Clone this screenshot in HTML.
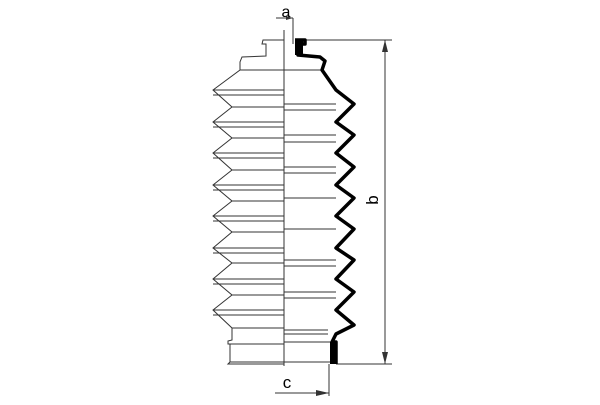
<!DOCTYPE html>
<html><head><style>body{margin:0;background:#fff}</style></head><body>
<svg width="600" height="400" viewBox="0 0 600 400" xmlns="http://www.w3.org/2000/svg" font-family="Liberation Sans, sans-serif">
<g fill="none" stroke="#333" stroke-width="1">
<line x1="284" y1="30" x2="284" y2="366"/>
<!-- left outline -->
<path d="M284 40 L263 40 L262 44 L266 44 L266 56 L242 57 L240 62 L240 70 L213 90 L232 107 L213 122 L232 138 L213 153 L232 170 L213 185 L232 201 L213 216 L232 232 L213 248 L232 263 L213 279 L232 295 L213 310 L232 328 L232 340 L228 341 L228 344 L230 344 L230 362 L228 364 L284 364"/>
<!-- horizontal lines left -->
<path d="M240 70 H284 M213 90H284 M213 95H284 M232 107H284 M213 122H284 M213 127H284 M232 138H284 M213 153H284 M213 158H284 M232 170H284 M213 185H284 M213 190H284 M232 201H284 M213 216H284 M213 221H284 M232 232H284 M213 248H284 M213 253H284 M232 263H284 M213 279H284 M213 284H284 M232 295H284 M213 310H284 M213 315H284 M232 328H284 M228 344H284 M230 362H284"/>
<!-- horizontal lines right -->
<path d="M284 70H324 M284 104H336 M284 110H336 M284 135H336 M284 142H336 M284 167H336 M284 173H336 M284 198H336 M284 229H336 M284 260H336 M284 266H336 M284 292H336 M284 298H336 M284 330H328 M284 334H328 M284 342H336 M284 362H336"/>
<!-- dimension lines -->
<line x1="300" y1="40" x2="392" y2="40"/>
<line x1="336" y1="364" x2="392" y2="364"/>
<line x1="385" y1="40" x2="385" y2="364"/>
<line x1="293" y1="18" x2="293" y2="44"/>
<line x1="276" y1="18" x2="293" y2="18"/>
<line x1="329" y1="364" x2="329" y2="396"/>
<line x1="275" y1="393" x2="329" y2="393"/>
</g>
<path d="M385 40 L382 52 L388 52Z M385 364 L382 352 L388 352Z M293 18 L286 16 L286 20Z M329 393 L316 390 L316 396Z" fill="#333"/>
<!-- thick right outline -->
<path d="M295 40 L305 40 L305 44 L299 44 L298 55 L320 57 L325 61 L322 70 L336 90 L354 104 L336 122 L354 135 L336 153 L354 167 L336 185 L354 198 L336 216 L354 229 L336 248 L354 260 L336 279 L354 292 L336 310 L354 325 L336 334 L332 342 L336 342 L336 364" fill="none" stroke="#000" stroke-width="3.5" stroke-linejoin="round"/>
<rect x="295" y="40" width="8" height="15" fill="#000"/>
<rect x="330" y="342" width="6" height="22" fill="#000"/>
<text x="286" y="17" font-size="16" text-anchor="middle" fill="#000">a</text>
<text x="287" y="388" font-size="17" text-anchor="middle" fill="#000">c</text>
<text x="0" y="0" font-size="17" fill="#000" text-anchor="middle" transform="translate(378 200) rotate(-90)">b</text>
</svg>
</body></html>
